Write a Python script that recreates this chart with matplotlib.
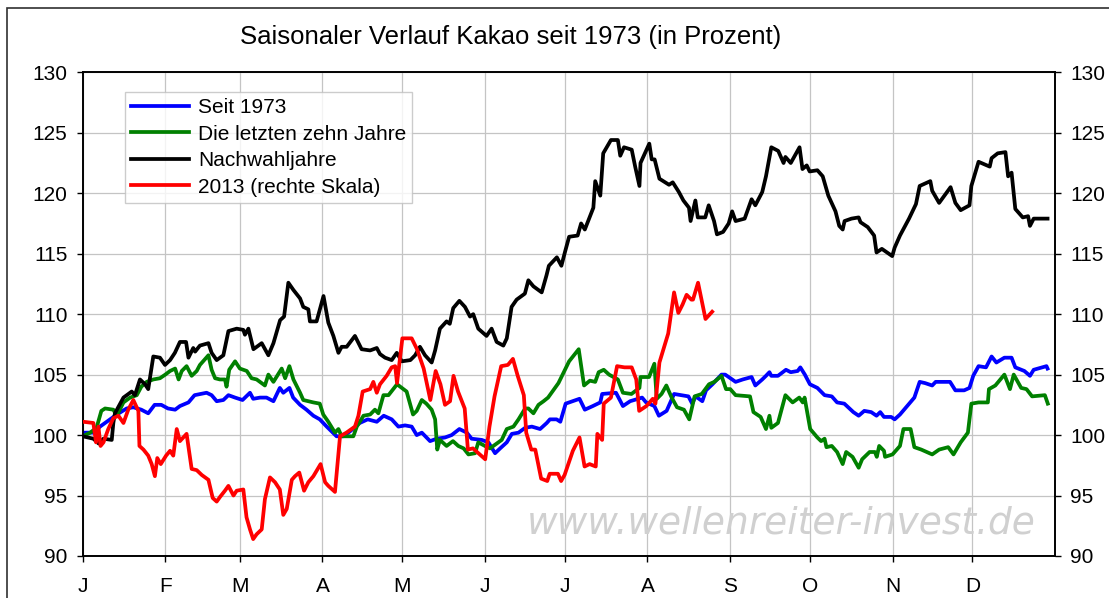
import matplotlib
matplotlib.use("Agg")
import matplotlib.pyplot as plt
from matplotlib.patches import Rectangle
from matplotlib.lines import Line2D

plt.rcParams['font.family'] = ['Liberation Sans', 'DejaVu Sans']

# x positions are calendar days (0 = 1 Jan)
month_days = [0, 31, 59, 90, 120, 151, 181, 212, 243, 273, 304, 334]
month_labels = ['J', 'F', 'M', 'A', 'M', 'J', 'J', 'A', 'S', 'O', 'N', 'D']
y_ticks = [90, 95, 100, 105, 110, 115, 120, 125, 130]

# Seit 1973
blue_days = [0, 4, 6.5, 10.3, 12.8, 16.5, 19, 22, 24.6, 27, 29.5, 32, 34.7, 36.5, 39.7, 42, 46.5, 48.4,
             50.3, 52.8, 54.7, 57.2, 60, 62.8, 64, 66.6, 69, 71.6, 74, 75.3, 77.6, 79, 81.6, 84, 86.6,
             89, 91.6, 95.3, 97.8, 100.3, 104, 107, 110.4, 113, 116, 118.5, 121, 123.5, 125.4, 127.3,
             130.4, 132.9, 136, 138.5, 141.4, 144.2, 146, 149.8, 152.3, 154.8, 156.7, 159.2, 161.1,
             163.6, 166.1, 168.6, 171.7, 174.2, 175.4, 177.9, 179.3, 181.3, 186.5, 188.5, 191.5, 194.3,
             195.0, 200.2, 202.8, 205.5, 210, 211.5, 214.6, 216.3, 219.2, 222, 227.4, 228.8, 230.1,
             232.6, 234.0, 236.4, 239.8, 241.2, 243.8, 245.1, 247.8, 251.1, 252.5, 255.1, 256.5, 257.8,
             258.5, 261, 264, 265.8, 268.4, 269.4, 271.1, 273, 275.8, 278.5, 281.2, 283.2, 285.9, 289.3,
             291.3, 293.4, 296, 298, 299.4, 300.8, 303.5, 304.8, 306.8, 309.5, 312.2, 314.2, 316.2,
             318.9, 320.2, 325.6, 327.6, 330.9, 332.9, 334.3, 336.3, 339.1, 341.2, 343, 346, 348.7,
             350.1, 353.5, 355.6, 357, 361.8, 362.2]
blue_vals = [100.2, 100.2, 100.7, 101.3, 101.7, 102.2, 102.3, 102.1, 101.8, 102.5, 102.5, 102.2, 102.1,
             102.4, 102.7, 103.3, 103.5, 103.3, 102.8, 102.9, 103.3, 103.1, 102.9, 103.5, 103.0, 103.1,
             103.1, 102.8, 103.9, 103.5, 103.9, 103.1, 102.5, 102.1, 101.6, 101.3, 100.7, 99.9, 99.9,
             100.3, 101.0, 101.3, 101.1, 101.6, 101.3, 100.7, 100.8, 100.7, 100.0, 100.2, 99.5, 99.7,
             99.8, 100.0, 100.5, 100.2, 99.7, 99.6, 99.4, 98.5, 98.9, 99.4, 100.1, 100.2, 100.6, 100.7,
             100.5, 101.0, 101.3, 101.3, 101.1, 102.6, 103.0, 102.1, 102.4, 102.7, 103.4, 103.5, 102.4,
             102.8, 103.1, 102.7, 102.4, 101.6, 102.0, 103.4, 103.2, 102.6, 103.2, 102.8, 103.7, 104.2,
             105.0, 105.0, 104.6, 104.4, 104.6, 104.8, 104.1, 104.6, 104.9, 105.2, 104.9, 104.9, 105.4,
             105.2, 105.3, 105.6, 105.0, 104.2, 103.9, 103.3, 103.2, 102.7, 102.6, 101.9, 101.6, 102.0,
             101.9, 101.6, 101.9, 101.5, 101.5, 101.3, 101.7, 102.4, 103.1, 104.4, 104.3, 104.1, 104.4,
             104.4, 103.7, 103.7, 103.9, 104.9, 105.7, 105.6, 106.5, 106.0, 106.4, 106.4, 105.6, 105.3,
             104.9, 105.4, 105.7, 105.5]

# Die letzten zehn Jahre
green_days = [0, 2.8, 5.2, 7, 8.4, 11.5, 12.8, 15.3, 17.8, 20.3, 22, 24, 26.5, 29, 31, 32.8, 34.7, 36,
              37.2, 39, 40.9, 42.8, 44, 47.2, 48.4, 49.7, 51.5, 53.4, 54, 55, 57.2, 59, 61.6, 63.4, 65.3,
              68.4, 69.7, 71.6, 74.7, 76, 77.6, 79.1, 81.6, 82.8, 84.7, 86.6, 89, 90.3, 92.2, 94.7, 96,
              97.2, 101.6, 102.9, 105.4, 107.9, 109.7, 111, 112.9, 114.8, 118, 120.4, 121.6, 124, 125.4,
              127.3, 129, 131, 132.3, 133.1, 134.1, 136.6, 139, 141, 143, 144.8, 147.3, 148.5, 151, 152.9,
              154.8, 157.3, 159.2, 161.7, 163.6, 166.1, 167.3, 169.2, 171.1, 173, 174.7, 178.6, 182.6,
              186.2, 188.2, 190.4, 192.4, 193.7, 195.6, 197.6, 200.9, 202.8, 206, 209, 209.4, 212.6,
              214.6, 215.5, 217.3, 219.1, 221.1, 223.1, 225.7, 227.7, 229.7, 232.4, 235.1, 237.1, 239.8,
              241.5, 243.1, 245.1, 250.5, 251.8, 254.5, 256.5, 257.8, 258.5, 261, 263.8, 266.5, 269,
              270.3, 271, 273.1, 275.8, 277.2, 278.5, 279.2, 281.2, 283.2, 285.3, 286.6, 289, 291.3,
              292.6, 295.4, 297.4, 298.1, 299, 300.8, 301.2, 304, 306.8, 308.1, 310.8, 312.2, 314.8,
              318.9, 321.5, 324.9, 326.9, 329.6, 332.3, 333.6, 336.3, 339.8, 340.2, 342.6, 346, 348.1,
              349.5, 352.3, 354.3, 356.4, 361.2, 362.3]
green_vals = [99.9, 100.2, 100.6, 102.0, 102.2, 102.1, 101.6, 102.7, 103.1, 103.3, 104.0, 104.4, 104.6,
              104.7, 105.0, 105.3, 105.5, 104.6, 105.3, 105.7, 104.9, 105.3, 105.8, 106.6, 105.4, 104.7,
              104.6, 104.6, 104.0, 105.4, 106.1, 105.5, 105.3, 104.7, 104.6, 104.1, 105.0, 104.4, 105.5,
              104.7, 105.7, 104.6, 103.5, 102.9, 102.8, 102.7, 102.6, 101.7, 101.1, 100.2, 100.5, 99.9,
              99.9, 100.7, 101.6, 101.7, 102.1, 101.8, 103.3, 103.3, 104.2, 103.8, 103.6, 101.7, 102.0,
              102.9, 102.6, 102.1, 101.3, 98.8, 99.6, 99.1, 99.5, 99.1, 98.9, 98.4, 98.5, 99.4, 99.1,
              98.9, 99.2, 99.6, 100.5, 100.7, 101.3, 102.2, 102.2, 101.8, 102.5, 102.8, 103.1, 104.3,
              106.1, 107.1, 104.1, 104.5, 104.4, 105.2, 105.4, 105.0, 104.6, 103.5, 103.4, 103.9, 104.8,
              104.8, 105.9, 103.0, 103.4, 104.1, 103.1, 102.3, 102.1, 101.3, 103.2, 103.4, 104.2, 104.4,
              104.9, 103.8, 103.8, 103.3, 103.2, 101.9, 101.5, 100.5, 101.6, 100.6, 101.0, 103.3, 102.7,
              103.1, 102.7, 103.1, 100.5, 99.8, 99.5, 99.7, 99.0, 99.1, 98.6, 97.6, 98.6, 98.2, 97.3,
              98.0, 98.6, 98.6, 98.2, 99.1, 98.7, 98.2, 98.4, 99.1, 100.5, 100.5, 99.0, 98.8, 98.4, 98.8,
              99.0, 98.4, 99.4, 100.2, 102.6, 102.7, 102.7, 103.8, 104.1, 105.0, 103.8, 105.0, 103.9,
              103.8, 103.2, 103.3, 102.6]

# Nachwahljahre
black_days = [0, 4, 6, 7.8, 10.9, 11.5, 12.1, 15.3, 18.4, 19.6, 21.5, 23.4, 24.6, 26.5, 29, 30.9, 32.8,
              34.6, 36.5, 38.8, 39.7, 41.5, 42.2, 44, 47.2, 48.4, 50.3, 52.8, 54.7, 57.8, 60.3, 60.9,
              62.2, 64.1, 67.2, 69.7, 71.6, 74.1, 75.6, 77.2, 79.1, 81.6, 82.8, 84.7, 85.3, 87.8, 90.4,
              92.2, 94.1, 96, 97.2, 99.1, 102.2, 104.7, 107.9, 110.4, 111.6, 113.5, 116, 117.9, 119.8,
              123, 124.8, 126.6, 128.5, 131, 132.3, 134.1, 136.6, 137.8, 139.1, 141.4, 143.5, 145.4,
              146.6, 148.5, 151.6, 153.5, 155.4, 157.9, 159.2, 161, 162.9, 166, 167.3, 169.2, 172.3,
              174.1, 175, 178, 179.7, 181, 182.6, 185.8, 187.1, 188.5, 191.7, 192.4, 194.3, 195.4,
              198.3, 200.9, 201.8, 203.2, 206.1, 207.4, 209, 209.4, 212.7, 213.6, 214.7, 216.5, 220.1,
              221.5, 223.8, 225.5, 227.6, 228.2, 230, 230.9, 233.7, 235, 237, 238.1, 240.4, 242.5,
              243.8, 245.1, 248.5, 251.1, 252.5, 255.1, 256.5, 258.5, 261.1, 263.1, 263.8, 265.8,
              269.1, 270.2, 271.8, 272.9, 275.8, 277.8, 279.9, 282.6, 284, 285.3, 286, 288.6, 291.3,
              292, 294.7, 297.1, 298, 300, 303.9, 304.8, 306.8, 310.2, 312.8, 314.2, 318.2, 318.9,
              321.5, 325.8, 327.6, 329.6, 332.9, 333.6, 336.3, 340.5, 341.2, 343.5, 346.4, 347.4,
              348.7, 350.1, 352.9, 354.9, 355.6, 357, 362.2]
black_vals = [99.9, 99.7, 99.3, 99.7, 99.6, 101.0, 101.8, 103.1, 103.6, 103.3, 104.6, 104.2, 103.8,
              106.5, 106.4, 105.8, 106.2, 106.8, 107.7, 107.7, 106.4, 107.2, 106.9, 107.4, 107.6, 106.8,
              106.2, 106.6, 108.6, 108.8, 108.7, 108.3, 108.8, 107.1, 107.6, 106.6, 107.6, 109.5, 109.8,
              112.6, 112.0, 111.3, 110.6, 110.4, 109.4, 109.4, 111.5, 109.3, 108.2, 106.8, 107.3, 107.3,
              108.2, 107.1, 107.0, 107.2, 106.7, 106.4, 106.2, 106.8, 106.1, 106.2, 106.6, 107.3, 106.6,
              106.0, 107.0, 108.8, 109.4, 109.2, 110.5, 111.1, 110.6, 109.8, 110.0, 108.8, 108.2, 108.8,
              107.7, 107.4, 108.0, 110.6, 111.2, 111.7, 112.8, 112.3, 111.8, 113.2, 114.0, 114.7, 114.0,
              115.1, 116.4, 116.5, 117.5, 117.0, 118.8, 121.0, 119.8, 123.3, 124.4, 124.4, 123.1, 123.8,
              123.6, 122.2, 120.6, 122.5, 124.1, 122.8, 122.8, 121.2, 120.7, 120.9, 120.1, 119.4, 118.8,
              117.7, 119.4, 118.0, 118.0, 119.0, 117.7, 116.6, 116.8, 117.5, 118.5, 117.7, 117.9, 119.5,
              119.0, 120.1, 121.4, 123.8, 123.5, 122.5, 123.0, 122.5, 123.8, 122.0, 122.3, 121.8, 121.9,
              121.4, 119.8, 118.5, 117.3, 117.0, 117.7, 117.9, 118.0, 117.6, 117.2, 116.5, 115.1, 115.4,
              114.8, 115.5, 116.5, 117.9, 119.1, 120.6, 121.0, 120.2, 119.2, 120.5, 119.2, 118.6, 119.0,
              120.6, 122.6, 122.2, 122.9, 123.3, 123.4, 121.4, 121.7, 118.7, 118.0, 118.1, 117.3, 117.9,
              117.9]

# 2013 (rechte Skala)
red_days = [0.2, 4, 5, 5.9, 6.7, 7.8, 9.6, 11.5, 13.4, 15.3, 17.1, 19, 20.9, 21.3, 22.8, 24.6, 25.9,
            27.1, 28, 29.3, 31.3, 32.8, 34, 35.3, 36.5, 39, 40.9, 42.8, 44.7, 47.2, 48.8, 50.3, 51.6,
            53.4, 54.7, 56.6, 57.8, 60.3, 61.5, 62.8, 64, 65.3, 67.2, 68.4, 70.3, 72.2, 74, 75.3, 76.6,
            78.5, 79.7, 81.3, 83.1, 84.7, 86.6, 89.3, 91, 92.2, 94.7, 96.6, 99, 102.2, 103.5, 105.1,
            107.9, 109.1, 110.4, 111.6, 114.1, 116, 117.3, 118, 120, 123.5, 125.5, 128, 130.5, 132.5,
            134.3, 136, 137.9, 139.2, 140.9, 143.4, 144.6, 146.5, 149.6, 151.1, 152.7, 154.6, 157.1,
            159.6, 161.5, 163.3, 165.6, 166.5, 168.4, 169.9, 172.1, 174.4, 175.3, 178.4, 179.6, 180.9,
            184, 186.5, 188.4, 190.3, 192.6, 193.2, 195, 195.6, 198.3, 200.6, 203.4, 206.1, 207.8,
            208.9, 211.6, 214, 215, 216.5, 219.8, 222, 223.6, 225.2, 226.7, 228.5, 229.1, 231, 233.8,
            236.3]
red_vals = [101.1, 101.0, 99.4, 100.7, 99.1, 99.4, 100.5, 101.4, 101.6, 101.0, 102.1, 102.9, 102.0, 99.1,
            98.8, 98.3, 97.6, 96.6, 98.1, 97.6, 98.3, 98.7, 98.3, 100.5, 99.5, 100.1, 97.2, 97.1, 96.7,
            96.3, 94.8, 94.5, 94.9, 95.4, 95.8, 95.0, 95.4, 95.5, 93.2, 92.2, 91.4, 91.8, 92.2, 94.7,
            96.5, 96.1, 95.5, 93.4, 93.9, 96.3, 96.6, 96.9, 95.4, 96.1, 96.6, 97.6, 96.1, 95.8, 95.3,
            99.9, 100.2, 100.7, 101.6, 103.6, 103.8, 104.4, 103.5, 104.2, 104.9, 105.6, 105.7, 104.3,
            108.0, 108.0, 107.1, 105.5, 102.9, 105.3, 104.2, 102.5, 102.8, 104.9, 103.6, 102.2, 98.8,
            98.9, 98.3, 98.0, 100.7, 103.2, 105.7, 105.8, 106.3, 104.9, 103.3, 100.2, 98.8, 98.8, 96.4,
            96.2, 96.8, 96.8, 96.2, 96.7, 98.7, 99.8, 97.4, 97.6, 97.4, 100.1, 99.6, 102.6, 103.1, 105.7,
            105.6, 105.6, 104.6, 102.0, 102.4, 103.0, 102.6, 106.0, 108.4, 111.8, 110.1, 110.8, 111.6,
            111.2, 111.2, 112.6, 109.6, 110.2]

series_labels = ['Seit 1973', 'Die letzten zehn Jahre', 'Nachwahljahre', '2013 (rechte Skala)']
series_colors = ['#0000ff', '#008000', '#000000', '#ff0000']

W, H = 1109, 598
fig = plt.figure(figsize=(W / 100, H / 100), dpi=100)
fig.patch.set_facecolor('white')

left, right, top, bottom = 82.7, 1055, 72.3, 556
ax = fig.add_axes([left / W, 1 - bottom / H, (right - left) / W, (bottom - top) / H])
lw = 2.7
ax.plot(blue_days, blue_vals, color=series_colors[0], lw=lw, zorder=3)
ax.plot(green_days, green_vals, color=series_colors[1], lw=lw, zorder=4)
ax.plot(black_days, black_vals, color=series_colors[2], lw=lw, zorder=5)

ax.set_xlim(0, 365)
ax.set_ylim(90, 130)
ax.set_yticks(y_ticks)
ax.set_xticks(month_days)
ax.set_xticklabels(month_labels)
ax.grid(True, color='#c4c4c4', lw=0.9)
ax.set_axisbelow(True)
ax.tick_params(axis='both', direction='out', length=4, width=1, labelsize=15, colors='black')
ax.tick_params(axis='x', pad=11)
ax.tick_params(axis='y', pad=7)
for s in ax.spines.values():
    s.set_linewidth(1.2)
    s.set_color('black')

ax2 = ax.twinx()
ax2.plot(red_days, red_vals, color=series_colors[3], lw=lw, zorder=3)
ax2.set_ylim(90, 130)
ax2.set_yticks(y_ticks)
ax2.tick_params(axis='y', direction='out', length=4, width=1, labelsize=15, pad=7)
for s in ax2.spines.values():
    s.set_linewidth(1.2)

handles = [Line2D([], [], color=c, lw=lw) for c in series_colors]
leg = fig.legend(handles, series_labels, loc='upper left',
                 bbox_to_anchor=(125 / W, 1 - 92 / H), bbox_transform=fig.transFigure,
                 fontsize=15, frameon=True, fancybox=False, borderpad=0.3,
                 labelspacing=0.36, handlelength=2.75, handletextpad=0.45, borderaxespad=0)
leg.get_frame().set_edgecolor('#c0c0c0')
leg.get_frame().set_linewidth(1.0)

fig.text(511 / W, 1 - 37 / H, 'Saisonaler Verlauf Kakao seit 1973 (in Prozent)',
         fontsize=18.5, ha='center', va='center')

fig.text(781 / W, 1 - 523 / H, 'www.wellenreiter-invest.de', fontsize=27, style='italic',
         family='DejaVu Sans', color='#d0d0d0', ha='center', va='center', zorder=1)

fig.add_artist(Rectangle((7 / W, -0.05), 1.2, 1.05 - 8 / H, transform=fig.transFigure,
                         fill=False, edgecolor='#303030', lw=1.2))

fig.savefig('out.png', dpi=100)
